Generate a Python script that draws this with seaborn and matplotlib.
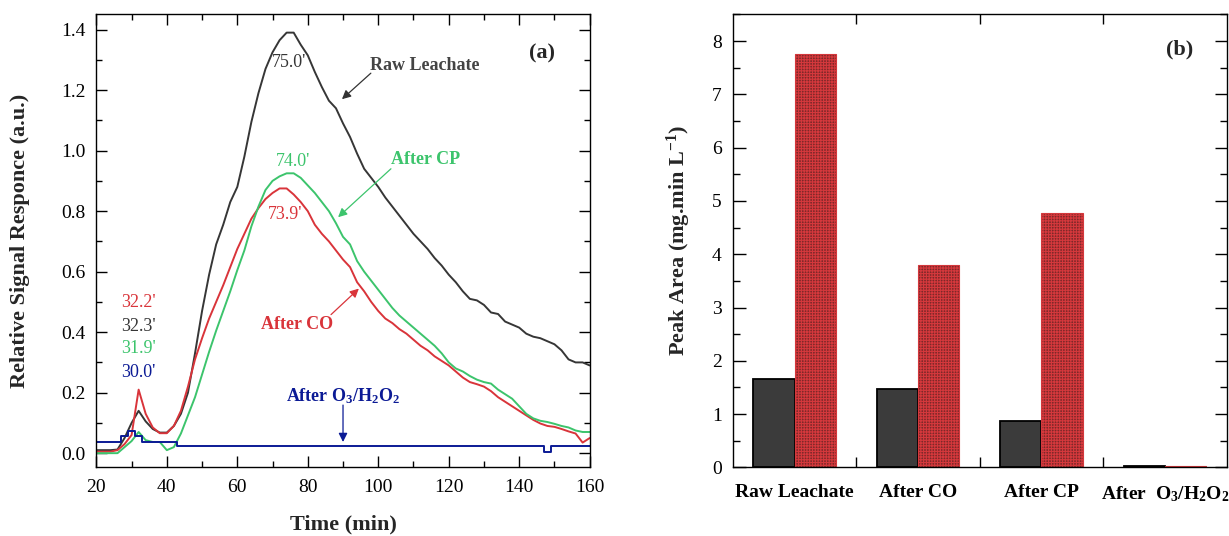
import matplotlib
matplotlib.use("Agg")
import matplotlib.pyplot as plt
import numpy as np
import pandas as pd
import seaborn as sns
from matplotlib.ticker import MultipleLocator, FixedLocator

# ---------------- data ----------------
time_min = list(range(20, 161, 2))

raw_leachate = [0.010, 0.010, 0.010, 0.012, 0.050, 0.100, 0.140, 0.105, 0.080, 0.068,
                0.068, 0.090, 0.130, 0.200, 0.330, 0.470, 0.590, 0.690, 0.755, 0.830,
                0.880, 0.980, 1.095, 1.190, 1.270, 1.325, 1.365, 1.390, 1.390, 1.350,
                1.315, 1.260, 1.210, 1.165, 1.140, 1.090, 1.045, 0.990, 0.940, 0.910,
                0.880, 0.845, 0.815, 0.785, 0.755, 0.725, 0.700, 0.675, 0.645, 0.620,
                0.590, 0.565, 0.535, 0.510, 0.505, 0.490, 0.465, 0.460, 0.435, 0.425,
                0.415, 0.395, 0.385, 0.380, 0.370, 0.360, 0.340, 0.310, 0.300, 0.300,
                0.290]

after_co = [0.005, 0.005, 0.005, 0.010, 0.030, 0.060, 0.210, 0.130, 0.085, 0.066,
            0.066, 0.090, 0.140, 0.220, 0.310, 0.380, 0.445, 0.500, 0.555, 0.615,
            0.675, 0.725, 0.775, 0.810, 0.840, 0.860, 0.875, 0.875, 0.855, 0.830,
            0.800, 0.755, 0.725, 0.700, 0.670, 0.640, 0.615, 0.565, 0.535, 0.500,
            0.470, 0.445, 0.430, 0.410, 0.395, 0.375, 0.355, 0.340, 0.320, 0.305,
            0.290, 0.270, 0.250, 0.235, 0.228, 0.220, 0.205, 0.185, 0.170, 0.155,
            0.140, 0.125, 0.110, 0.098, 0.090, 0.087, 0.080, 0.072, 0.065, 0.035,
            0.050]

after_cp = [0.000, 0.000, 0.000, 0.000, 0.020, 0.040, 0.070, 0.043, 0.037, 0.037,
            0.010, 0.020, 0.065, 0.125, 0.185, 0.260, 0.335, 0.405, 0.470, 0.535,
            0.605, 0.670, 0.750, 0.815, 0.870, 0.900, 0.915, 0.925, 0.925, 0.910,
            0.885, 0.860, 0.830, 0.800, 0.760, 0.715, 0.690, 0.635, 0.600, 0.570,
            0.540, 0.510, 0.480, 0.455, 0.435, 0.415, 0.395, 0.375, 0.355, 0.330,
            0.300, 0.280, 0.270, 0.255, 0.243, 0.235, 0.230, 0.210, 0.195, 0.180,
            0.155, 0.130, 0.115, 0.107, 0.103, 0.097, 0.090, 0.085, 0.075, 0.070,
            0.070]

after_o3h2o2 = [0.037, 0.037, 0.037, 0.037, 0.057, 0.073, 0.057, 0.037, 0.037, 0.037,
                0.037, 0.037, 0.025, 0.025, 0.025, 0.025, 0.025, 0.025, 0.025, 0.025,
                0.025, 0.025, 0.025, 0.025, 0.025, 0.025, 0.025, 0.025, 0.025, 0.025,
                0.025, 0.025, 0.025, 0.025, 0.025, 0.025, 0.025, 0.025, 0.025, 0.025,
                0.025, 0.025, 0.025, 0.025, 0.025, 0.025, 0.025, 0.025, 0.025, 0.025,
                0.025, 0.025, 0.025, 0.025, 0.025, 0.025, 0.025, 0.025, 0.025, 0.025,
                0.025, 0.025, 0.025, 0.025, 0.003, 0.025, 0.025, 0.025, 0.025, 0.025,
                0.025]

series_names = ["Raw Leachate", "After CO", "After CP", "After O3/H2O2"]
series_colors = ["#363636", "#d9343a", "#3cc46c", "#0b1a95"]

bar_groups = ["Raw Leachate", "After CO", "After CP", r"After  O$_3$/H$_2$O$_2$"]
peak1_area = [1.65, 1.48, 0.88, 0.03]
peak2_area = [7.75, 3.80, 4.78, 0.03]
bar_series = ["Peak ~32 min", "Peak ~75 min"]

# ---------------- style ----------------
sns.set_theme(style="white")
plt.rcParams["font.family"] = ["Liberation Serif", "DejaVu Serif"]
plt.rcParams["mathtext.fontset"] = "custom"
plt.rcParams["mathtext.rm"] = "Liberation Serif"
plt.rcParams["mathtext.bf"] = "Liberation Serif:bold"
plt.rcParams["mathtext.it"] = "Liberation Serif:italic"
plt.rcParams["mathtext.default"] = "regular"
plt.rcParams["hatch.linewidth"] = 0.8

fig = plt.figure(figsize=(12.29, 5.36), dpi=100)
ax1 = fig.add_axes([0.0784, 0.128, 0.4014, 0.845])
ax2 = fig.add_axes([0.5964, 0.128, 0.4016, 0.845])

# ---------------- panel (a) ----------------
frames = []
for name, vals in zip(series_names, [raw_leachate, after_co, after_cp, after_o3h2o2]):
    frames.append(pd.DataFrame({"time": time_min, "signal": vals, "sample": name}))
df_lines = pd.concat(frames, ignore_index=True)

main_names = series_names[:3]
sns.lineplot(data=df_lines[df_lines["sample"].isin(main_names)], x="time", y="signal",
             hue="sample", hue_order=main_names, palette=series_colors[:3],
             estimator=None, linewidth=1.4, legend=False, ax=ax1)
sns.lineplot(data=df_lines[df_lines["sample"] == series_names[3]], x="time", y="signal",
             color=series_colors[3], estimator=None, drawstyle="steps-mid",
             linewidth=1.4, legend=False, ax=ax1)

ax1.set_xlim(20, 160)
ax1.set_ylim(-0.047, 1.45)
ax1.xaxis.set_major_locator(MultipleLocator(20))
ax1.xaxis.set_minor_locator(MultipleLocator(10))
ax1.yaxis.set_major_locator(MultipleLocator(0.2))
ax1.yaxis.set_minor_locator(MultipleLocator(0.1))
ax1.yaxis.set_major_formatter(matplotlib.ticker.FormatStrFormatter("%.1f"))
ax1.tick_params(which="both", direction="in", top=True, right=True, bottom=True, left=True,
                colors="black", labelsize=14, width=1.0)
ax1.tick_params(which="major", length=8, pad=8)
ax1.tick_params(which="minor", length=4)
for sp in ax1.spines.values():
    sp.set_color("black")
    sp.set_linewidth(1.0)
ax1.set_xlabel("Time (min)", fontsize=16, fontweight="bold", labelpad=14)
ax1.set_ylabel("Relative Signal Responce (a.u.)", fontsize=16, fontweight="bold", labelpad=22)

txt_kw = dict(ha="center", va="center", fontsize=13)
ax1.text(74.7, 1.29, "75.0'", color=series_colors[0], **txt_kw)
ax1.text(75.8, 0.965, "74.0'", color=series_colors[2], **txt_kw)
ax1.text(73.5, 0.79, "73.9'", color=series_colors[1], **txt_kw)
ax1.text(32.0, 0.497, "32.2'", color=series_colors[1], **txt_kw)
ax1.text(32.0, 0.418, "32.3'", color=series_colors[0], **txt_kw)
ax1.text(32.0, 0.346, "31.9'", color=series_colors[2], **txt_kw)
ax1.text(32.0, 0.265, "30.0'", color=series_colors[3], **txt_kw)

bold_kw = dict(ha="center", va="center", fontsize=13, fontweight="bold")
ax1.text(113.3, 1.28, "Raw Leachate", color="#444444", **bold_kw)
ax1.text(113.4, 0.969, "After CP", color=series_colors[2], **bold_kw)
ax1.text(77.0, 0.426, "After CO", color=series_colors[1], **bold_kw)
ax1.text(90.1, 0.19, r"After O$_3$/H$_2$O$_2$", color=series_colors[3], **bold_kw)
ax1.text(146.6, 1.32, "(a)", ha="center", va="center", fontsize=16, fontweight="bold")

def arrow(ax, start, end, color):
    ax.annotate("", xy=end, xytext=start,
                arrowprops=dict(arrowstyle="-|>", color=color, lw=0.9,
                                mutation_scale=13, shrinkA=0, shrinkB=0))

arrow(ax1, (97.9, 1.256), (89.7, 1.17), "#333333")
arrow(ax1, (103.6, 0.94), (88.6, 0.78), series_colors[2])
arrow(ax1, (86.6, 0.458), (94.5, 0.544), series_colors[1])
arrow(ax1, (90.0, 0.159), (90.0, 0.037), series_colors[3])

# ---------------- panel (b) ----------------
df_bars = pd.DataFrame({
    "group": bar_groups * 2,
    "area": peak1_area + peak2_area,
    "peak": [bar_series[0]] * 4 + [bar_series[1]] * 4,
})
sns.barplot(data=df_bars, x="group", y="area", hue="peak", order=bar_groups,
            hue_order=bar_series, palette=["#3b3b3b", "#7e2829"], saturation=1,
            width=0.67, legend=False, ax=ax2, errorbar=None)

for p in ax2.containers[0]:
    p.set_edgecolor("black")
    p.set_linewidth(1.3)
for p in ax2.containers[1]:
    p.set_edgecolor("#d4383c")
    p.set_hatch("++++++")
    p.set_linewidth(0.8)

ax2.set_xlim(-0.5, 3.5)
ax2.set_ylim(0, 8.5)
ax2.yaxis.set_major_locator(MultipleLocator(1))
ax2.yaxis.set_minor_locator(MultipleLocator(0.5))
ax2.xaxis.set_minor_locator(FixedLocator([0.5, 1.5, 2.5]))
ax2.tick_params(axis="y", which="both", direction="in", left=True, right=True,
                labelsize=14, colors="black", width=1.0)
ax2.tick_params(axis="y", which="major", length=9, pad=8)
ax2.tick_params(axis="y", which="minor", length=5)
ax2.tick_params(axis="x", which="major", length=0, pad=12, labelsize=14, colors="black")
ax2.tick_params(axis="x", which="minor", direction="in", length=7, top=True, bottom=True,
                width=1.0, colors="black")
for lbl in ax2.get_xticklabels():
    lbl.set_fontweight("bold")
for sp in ax2.spines.values():
    sp.set_color("black")
    sp.set_linewidth(1.0)
ax2.set_xlabel("")
ax2.set_ylabel(r"Peak Area (mg.min L$^{-1}$)", fontsize=16, fontweight="bold", labelpad=14)
ax2.text(3.12, 7.84, "(b)", ha="center", va="center", fontsize=16, fontweight="bold")

fig.savefig("out.png", dpi=100)
